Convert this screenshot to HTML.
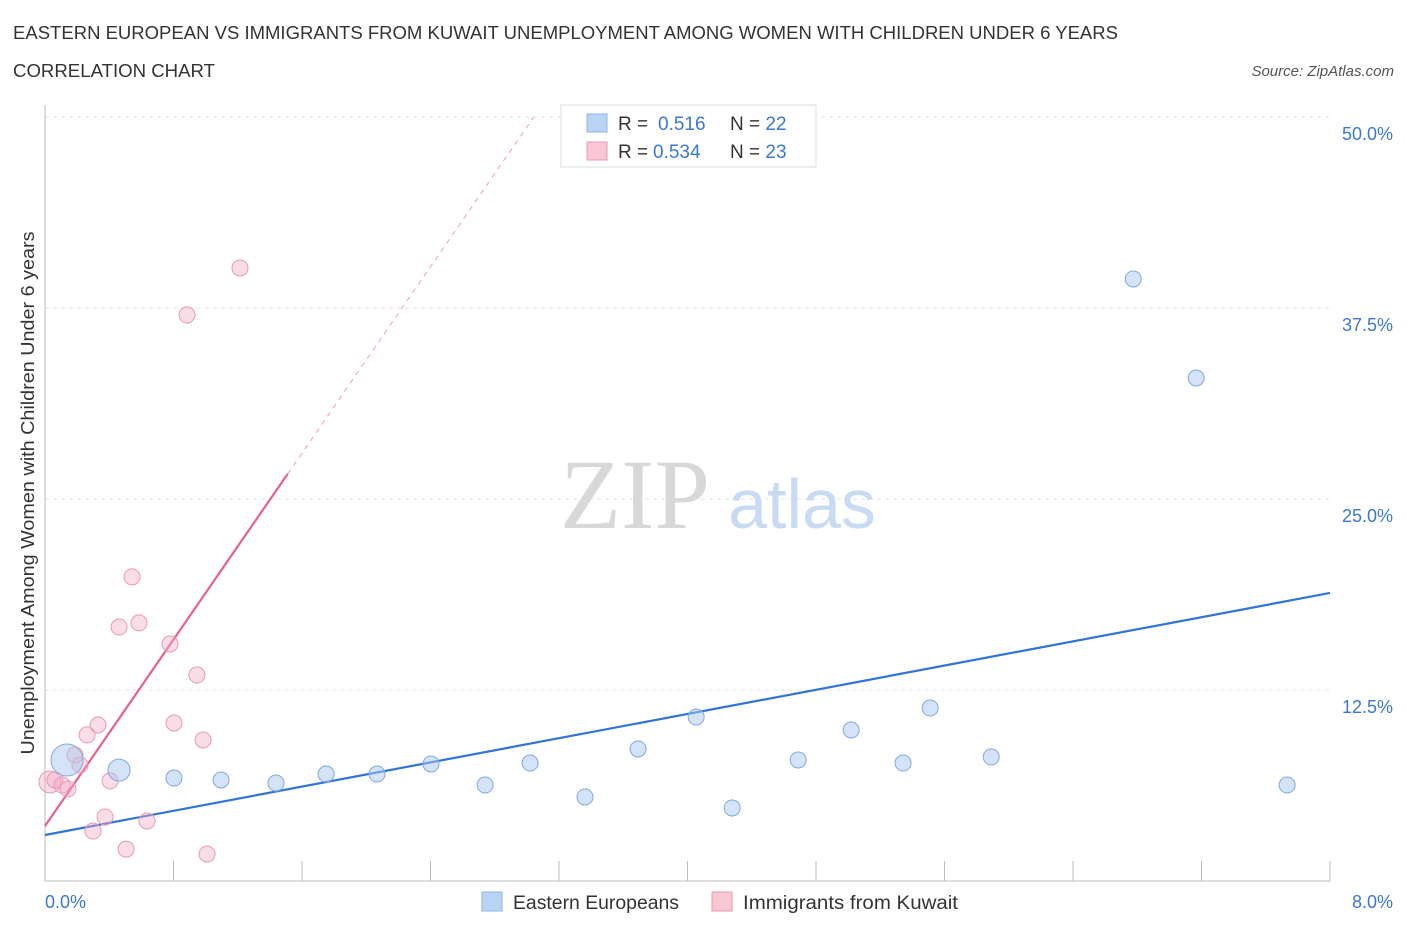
<!DOCTYPE html>
<html><head><meta charset="utf-8">
<style>
body{margin:0;background:#fff;font-family:"Liberation Sans",sans-serif;}
svg text{font-family:"Liberation Sans",sans-serif;}
</style></head>
<body>
<svg width="1406" height="930" xmlns="http://www.w3.org/2000/svg">
<text x="13" y="39" font-size="18" fill="#333" textLength="1105" lengthAdjust="spacingAndGlyphs">EASTERN EUROPEAN VS IMMIGRANTS FROM KUWAIT UNEMPLOYMENT AMONG WOMEN WITH CHILDREN UNDER 6 YEARS</text>
<text x="13" y="77" font-size="18" fill="#333" textLength="202" lengthAdjust="spacingAndGlyphs">CORRELATION CHART</text>
<text x="1394" y="76" font-size="15" fill="#555" font-style="italic" text-anchor="end">Source: ZipAtlas.com</text>
<g id="grid"></g>
<text x="635" y="528" font-size="100" fill="#d8d8d8" font-family="Liberation Serif" text-anchor="middle" style="font-family:'Liberation Serif',serif">ZIP</text>
<text x="802" y="528" font-size="70" fill="#c9dbf2" text-anchor="middle">atlas</text>
<g id="axes"></g>
<g id="lines"></g>
<g id="pts"></g>
<text x="45" y="908" font-size="18" fill="#3a78d4">0.0%</text>
<text x="1393" y="908" font-size="18" fill="#3a78d4" text-anchor="end">8.0%</text>
<text transform="translate(34,493) rotate(-90)" font-size="18" fill="#333" text-anchor="middle" textLength="523" lengthAdjust="spacingAndGlyphs">Unemployment Among Women with Children Under 6 years</text>
<g>
<rect x="561" y="105" width="255" height="62" fill="#fff" stroke="#ddd"/>
<rect x="587" y="114" width="20" height="18" fill="#b9d3f5" stroke="#8ab4e8"/>
<rect x="587" y="142" width="20" height="18" fill="#f9c6d4" stroke="#e89ab0"/>
<text x="618" y="130" font-size="19" fill="#333">R = <tspan x="658" fill="#3a78d4">0.516</tspan></text>
<text x="730" y="130" font-size="19" fill="#333">N = <tspan fill="#3a78d4">22</tspan></text>
<text x="618" y="158" font-size="19" fill="#333">R = <tspan x="653" fill="#3a78d4">0.534</tspan></text>
<text x="730" y="158" font-size="19" fill="#333">N = <tspan fill="#3a78d4">23</tspan></text>
</g>
<g>
<rect x="482" y="892" width="20" height="19" fill="#b9d3f5" stroke="#8ab4e8"/>
<text x="513" y="909" font-size="19" fill="#333" textLength="166" lengthAdjust="spacingAndGlyphs">Eastern Europeans</text>
<rect x="712" y="892" width="20" height="19" fill="#f9c6d4" stroke="#e89ab0"/>
<text x="743" y="909" font-size="19" fill="#333" textLength="215" lengthAdjust="spacingAndGlyphs">Immigrants from Kuwait</text>
</g>
</svg>
<script>
const yTicks=[12.5,25,37.5,50];
const yTickLabels=["12.5%","25.0%","37.5%","50.0%"];
const blueX=[0.137,0.461,0.803,1.096,1.438,1.750,2.067,2.403,2.740,3.020,3.362,3.692,4.054,4.278,4.689,5.019,5.342,5.511,5.891,6.775,7.167,7.733];
const blueY=[7.92,7.26,6.74,6.61,6.41,7.00,7.00,7.66,6.28,7.72,5.50,8.64,10.73,4.78,7.92,9.88,7.72,11.32,8.12,39.40,32.92,6.28];
const pinkX=[0.031,0.062,0.106,0.143,0.187,0.218,0.262,0.299,0.330,0.374,0.405,0.461,0.505,0.542,0.585,0.635,0.778,0.803,0.884,0.946,0.984,1.009,1.214];
const pinkY=[6.48,6.61,6.28,6.02,8.25,7.59,9.56,3.27,10.21,4.19,6.55,16.62,2.09,19.90,16.89,3.93,15.51,10.34,37.04,13.48,9.23,1.77,40.12];
const blueTrend=[3.01,18.85];
const pinkTrend=[3.6,15.25];
const NS="http://www.w3.org/2000/svg";
const X=v=>45+v*160.625, Y=v=>881-v*15.28;
function mk(t,a,p){const e=document.createElementNS(NS,t);for(const k in a)e.setAttribute(k,a[k]);p.appendChild(e);return e;}
const grid=document.getElementById('grid'),axes=document.getElementById('axes'),lines=document.getElementById('lines'),pts=document.getElementById('pts');
yTicks.forEach((v,i)=>{
 const l=mk('line',{x1:45,x2:1330,y1:Y(v),y2:Y(v),stroke:'#e2e2e2','stroke-dasharray':'4,4'},grid);
 
 
 const t=mk('text',{x:1393,y:Y(v)+23,'font-size':18,fill:'#3a78d4','text-anchor':'end'},grid);
 t.textContent=yTickLabels[i];
 
 
});
mk('line',{x1:45,x2:45,y1:105,y2:881,stroke:'#bbb'},axes);
mk('line',{x1:45,x2:1330,y1:881,y2:881,stroke:'#bbb'},axes);
for(let i=0;i<=10;i++){const x=X(i*0.8);const t=mk('line',{x1:x,x2:x,y1:861,y2:881,stroke:'#bbb'},axes);
 
 }
const bl=mk('line',{x1:X(0),y1:Y(blueTrend[0]),x2:X(8),y2:Y(blueTrend[1]),stroke:'#2f74d6','stroke-width':2.2},lines);


const xs=1.511, xe=(50-pinkTrend[0])/pinkTrend[1];
const pl=mk('line',{x1:X(0),y1:Y(pinkTrend[0]),x2:X(xs),y2:Y(pinkTrend[0]+pinkTrend[1]*xs),stroke:'#e8608c','stroke-width':2.2},lines);


const pd=mk('line',{x1:X(xs),y1:Y(pinkTrend[0]+pinkTrend[1]*xs),x2:X(xe),y2:Y(50),stroke:'#eaa0b8','stroke-width':1,'stroke-dasharray':'5,5'},lines);


pinkX.forEach((x,i)=>{const c=mk('circle',{cx:X(x),cy:Y(pinkY[i]),r:i==0?11:8,fill:'rgba(245,170,195,0.4)',stroke:'#e89ab0'},pts);
 
 });
blueX.forEach((x,i)=>{const c=mk('circle',{cx:X(x),cy:Y(blueY[i]),r:i==0?16:(i==1?11:8),fill:'rgba(170,200,240,0.5)',stroke:'#7fa9e0'},pts);
 
 });
</script>
</body></html>
